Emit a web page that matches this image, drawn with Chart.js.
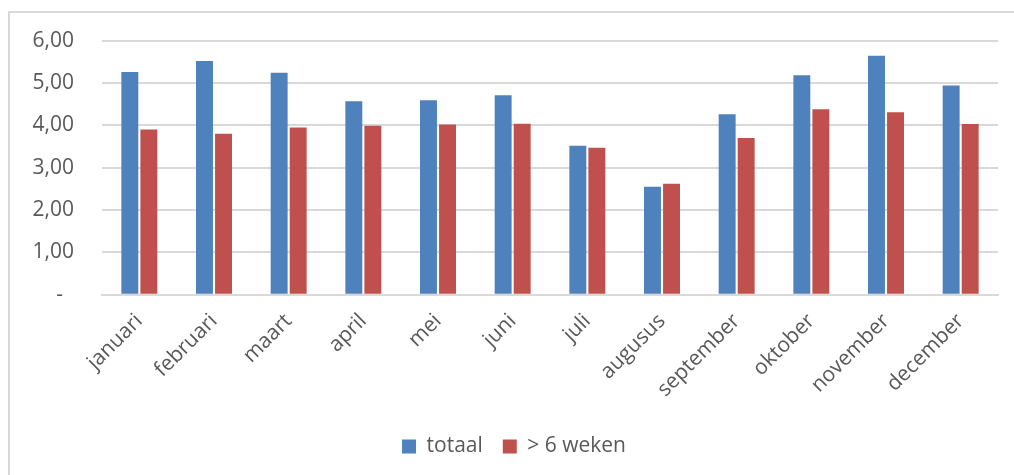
<!DOCTYPE html>
<html lang="nl">
<head>
  <meta charset="UTF-8">
  <title>totaal en > 6 weken per maand</title>
  <script src="https://cdn.jsdelivr.net/npm/chart.js"></script>
  <style>
    body {
      margin: 0;
      background: #fff;
    }
    .frame {
      position: absolute;
      left: 8px;
      top: 11px;
      width: 1006px;
      height: 464px;
      border-left: 2px solid #d9d9d9;
      border-top: 2px solid #d9d9d9;
    }
    .wrap {
      position: absolute;
      left: 0;
      top: 0;
      width: 1014px;
      height: 475px;
    }
  </style>
</head>
<body>
  <div class="frame"></div>
  <div class="wrap"><canvas id="chart"></canvas></div>

  <script>
    const months = ['januari', 'februari', 'maart', 'april', 'mei', 'juni', 'juli',
      'augusus', 'september', 'oktober', 'november', 'december'];
    const totaal = [5.26, 5.52, 5.24, 4.57, 4.59, 4.71, 3.52, 2.55, 4.26, 5.18, 5.64, 4.94];
    const langer = [3.90, 3.80, 3.95, 3.99, 4.02, 4.04, 3.47, 2.62, 3.70, 4.38, 4.31, 4.03];
    const yTicks = [0, 1, 2, 3, 4, 5, 6];

    const textColor = '#595959';
    const gridColor = '#d9d9d9';
    const font = { family: '"Open Sans", sans-serif', size: 21 };

    new Chart(document.getElementById('chart').getContext('2d'), {
      type: 'bar',
      data: {
        labels: months,
        datasets: [{
          label: 'totaal',
          data: totaal,
          backgroundColor: '#4f81bd',
          categoryPercentage: 0.51,
          barPercentage: 0.89,
        }, {
          label: '> 6 weken',
          data: langer,
          backgroundColor: '#c0504d',
          categoryPercentage: 0.51,
          barPercentage: 0.89,
        }],
      },
      options: {
        responsive: true,
        maintainAspectRatio: false,
        animation: false,
        layout: { padding: { left: 30, right: 16, top: 32, bottom: 8 } },
        plugins: {
          tooltip: { enabled: false },
          legend: {
            position: 'bottom',
            labels: {
              color: textColor,
              font: font,
              boxWidth: 14,
              boxHeight: 14,
              padding: 20,
            },
          },
        },
        scales: {
          x: {
            grid: { display: false, drawTicks: false },
            border: { color: gridColor, width: 2 },
            ticks: {
              color: textColor,
              font: font,
              maxRotation: 45,
              minRotation: 45,
              padding: 14,
            },
            afterFit: (axis) => {
              axis.paddingLeft = 0;
              axis.paddingRight = 0;
            },
          },
          y: {
            min: 0,
            max: 6,
            afterBuildTicks: (axis) => {
              axis.ticks = yTicks.map((v) => ({ value: v }));
            },
            afterFit: (axis) => {
              axis.width = 72;
            },
            grid: { color: gridColor, lineWidth: 2, drawTicks: false },
            border: { display: false },
            ticks: {
              color: textColor,
              font: font,
              padding: 28,
              callback: (v) => (v === 0 ? '-  ' : v.toFixed(2).replace('.', ',')),
            },
          },
        },
      },
    });
  </script>
</body>
</html>
